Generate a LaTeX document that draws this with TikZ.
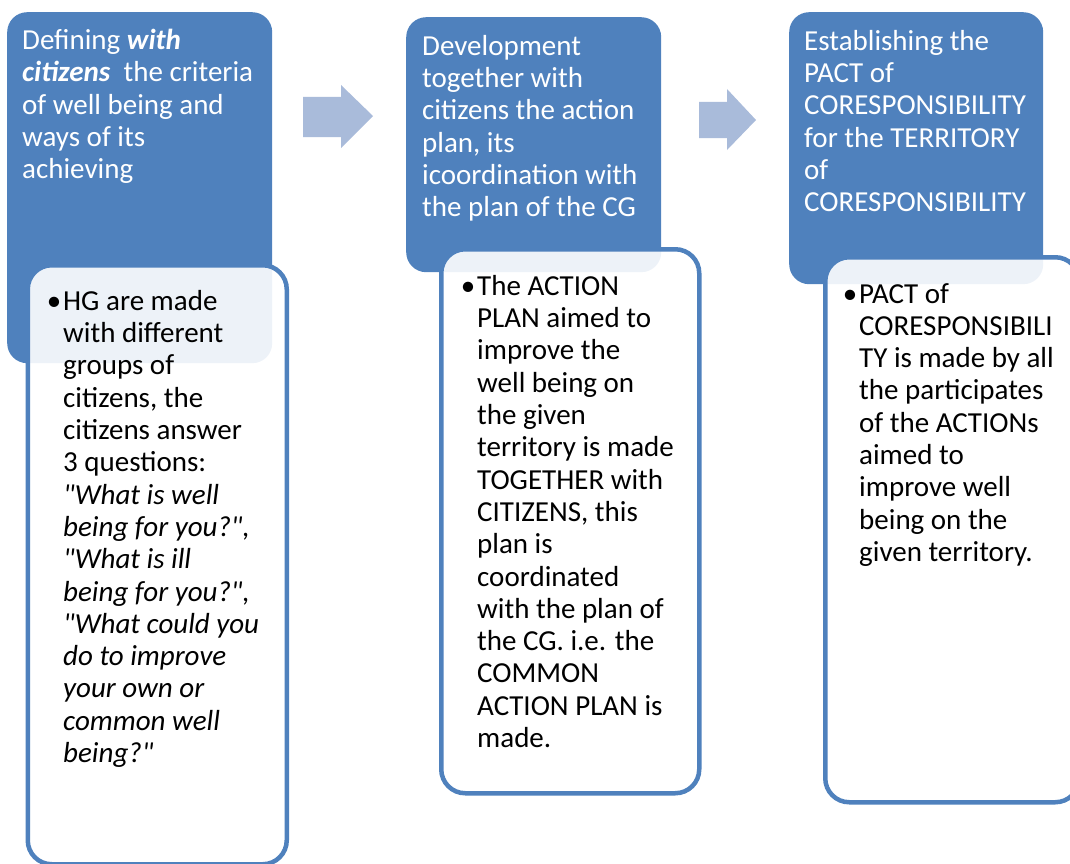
\documentclass[tikz,border=0pt]{standalone}
\usepackage{fontspec}
\setmainfont{Carlito}
\definecolor{stepblue}{HTML}{4F81BD}
\definecolor{arrowblue}{HTML}{A9BBDA}
\newcommand{\sq}{\XeTeXglyph\XeTeXcharglyph"22\relax}
\begin{document}
\begin{tikzpicture}[x=1pt,y=-1pt,
    headbox/.style={fill=stepblue,rounded corners=20pt,inner sep=0pt,anchor=north west},
    bodybox/.style={draw=stepblue,line width=4.5pt,fill=white,fill opacity=0.9,
      rounded corners=24pt,inner sep=0pt,anchor=north west},
    headtext/.style={text=white,font=\fontsize{29}{32.3}\selectfont,align=left,
      inner sep=0pt,anchor=north west},
    bodytext/.style={text=black,font=\fontsize{29}{32.3}\selectfont,align=left,
      inner sep=0pt,anchor=north west},
    blockarrow/.style={fill=arrowblue}]
        \useasboundingbox (0,0) rectangle (1070,864);
        % blue step boxes
        \node[headbox,minimum width=265pt,minimum height=351pt] (head1) at (  7,12) {};
        \node[headbox,minimum width=255pt,minimum height=255pt] (head2) at (406,17) {};
        \node[headbox,minimum width=254pt,minimum height=272pt] (head3) at (789,12) {};
        % block arrows
        \fill[blockarrow] (303,97) -- (341,97) -- (341,85) -- (373,116)
                          -- (341,148) -- (341,137) -- (303,137) -- cycle;
        \fill[blockarrow] (699,102) -- (727,102) -- (727,89) -- (756,120)
                          -- (727,150) -- (727,138) -- (699,138) -- cycle;
        % white detail boxes
        \node[bodybox,minimum width=259pt,minimum height=599pt] (body1) at (25.5,263) {};
        \node[bodybox,minimum width=258pt,minimum height=544pt] (body2) at (439,247) {};
        \node[bodybox,minimum width=254pt,minimum height=545pt] (body3) at (823,255) {};
        % step titles
        \node[headtext] (title1) at (22,29) {Defining \textbf{\textit{with}}\\
          \textbf{\textit{citizens}}~ the criteria\\ of well being and\\ ways of its\\ achieving};
        \node[headtext] (title2) at (422,35) {Development\\ together with\\
          citizens the action\\ plan, its\\ icoordination with\\ the plan of the CG};
        \node[headtext] (title3) at (804,30) {Establishing the\\ PACT of\\
          CORESPONSIBILITY\\ for the TERRITORY\\ of\\ CORESPONSIBILITY};
        % step details
        \node[bodytext] (detail1) at (63,290) {\llap{\textbullet\hspace{2pt}}HG are made\\
          with different\\ groups of\\ citizens, the\\ citizens answer\\ 3 questions:\\
          \textit{\sq What is well}\\ \textit{being for you?\sq,}\\ \textit{\sq What is ill}\\
          \textit{being for you?\sq,}\\ \textit{\sq What could you}\\ \textit{do to improve}\\
          \textit{your own or}\\ \textit{common well}\\ \textit{being?\sq}};
        \node[bodytext] (detail2) at (477,275) {\llap{\textbullet\hspace{2pt}}The ACTION\\
          PLAN aimed to\\ improve the\\ well being on\\ the given\\ territory is made\\
          TOGETHER with\\ CITIZENS, this\\ plan is\\ coordinated\\ with the plan of\\
          the CG. i.e. the\\ COMMON\\ ACTION PLAN is\\ made.};
        \node[bodytext] (detail3) at (859,283) {\llap{\textbullet\hspace{2pt}}PACT of\\
          CORESPONSIBILI\\ TY is made by all\\ the participates\\ of the ACTIONs\\
          aimed to\\ improve well\\ being on the\\ given territory.};
      \end{tikzpicture}
\end{document}
